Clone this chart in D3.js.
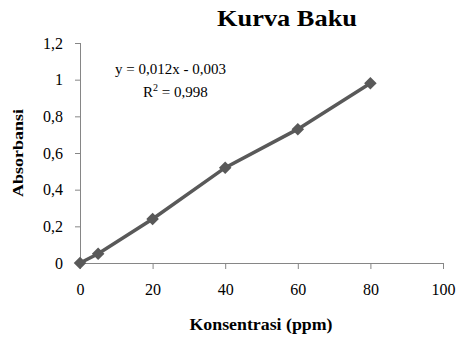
<!DOCTYPE html>
<html>
<head>
<meta charset="utf-8">
<script src="https://cdn.jsdelivr.net/npm/d3@7"></script>
<style>
  body { margin: 0; background: #fff; }
  .axis path, .axis line { stroke: #868686; }
  .axis text { font-family: "Liberation Serif", serif; font-size: 16px; fill: #000; }
</style>
</head>
<body>
<script>
// Data
var konsentrasi = [0, 5, 20, 40, 60, 80];
var absorbansi = [0, 0.05, 0.24, 0.52, 0.73, 0.98];
var xTicks = [0, 20, 40, 60, 80, 100];
var yTicks = [0, 0.2, 0.4, 0.6, 0.8, 1, 1.2];

var w = 466;
var h = 337;

// Scales
var xScale = d3.scaleLinear()
    .domain([0, 100])
    .range([80, 443]);

var yScale = d3.scaleLinear()
    .domain([0, 1.2])
    .range([263, 43]);

// comma as decimal sign
var fmt = function(d) { return String(+d.toFixed(1)).replace(".", ","); };

var svg = d3.select("body")
    .append("svg")
    .attr("width", w)
    .attr("height", h);

// X axis
svg.append("g")
    .attr("class", "axis")
    .attr("transform", "translate(0," + yScale(0) + ")")
    .call(d3.axisBottom(xScale).tickValues(xTicks).tickSize(6).tickPadding(15).tickFormat(fmt))
    .call(function(g) { g.select(".domain").attr("d", "M80,0.5H443"); });

// Y axis
svg.append("g")
    .attr("class", "axis")
    .attr("transform", "translate(" + xScale(0) + ",0)")
    .call(d3.axisLeft(yScale).tickValues(yTicks).tickSize(5).tickPadding(12).tickFormat(fmt))
    .call(function(g) { g.select(".domain").attr("d", "M0.5,43V263"); });

// Title
svg.append("text")
    .attr("x", 287)
    .attr("y", 26)
    .attr("text-anchor", "middle")
    .attr("textLength", 140)
    .attr("lengthAdjust", "spacingAndGlyphs")
    .style("font", "bold 24px 'Liberation Serif', serif")
    .text("Kurva Baku");

// Axis titles
svg.append("text")
    .attr("transform", "translate(23,153) rotate(-90)")
    .attr("text-anchor", "middle")
    .attr("textLength", 88)
    .attr("lengthAdjust", "spacingAndGlyphs")
    .style("font", "bold 15px 'Liberation Serif', serif")
    .text("Absorbansi");

svg.append("text")
    .attr("x", 261)
    .attr("y", 330)
    .attr("text-anchor", "middle")
    .attr("textLength", 143)
    .attr("lengthAdjust", "spacingAndGlyphs")
    .style("font", "bold 16px 'Liberation Serif', serif")
    .text("Konsentrasi (ppm)");

// Trendline equation
svg.append("text")
    .attr("x", 115)
    .attr("y", 74)
    .style("font", "15px 'Liberation Serif', serif")
    .text("y = 0,012x - 0,003");

var r2 = svg.append("text")
    .attr("x", 143)
    .attr("y", 97)
    .style("font", "15px 'Liberation Serif', serif");
r2.append("tspan").text("R");
r2.append("tspan").attr("dy", -6).style("font-size", "10px").text("2");
r2.append("tspan").attr("dy", 6).text(" = 0,998");

// Series
var pts = konsentrasi.map(function(d, i) { return {x: d, y: absorbansi[i]}; });

var line = d3.line()
    .x(function(d) { return xScale(d.x); })
    .y(function(d) { return yScale(d.y); });

svg.append("path")
    .datum(pts)
    .attr("d", line)
    .style("fill", "none")
    .style("stroke", "#595959")
    .style("stroke-width", 3.5);

svg.selectAll(".marker")
    .data(pts)
    .enter().append("path")
    .attr("class", "marker")
    .attr("transform", function(d) { return "translate(" + xScale(d.x) + "," + yScale(d.y) + ")"; })
    .attr("d", d3.symbol().type(d3.symbolDiamond2).size(100))
    .style("fill", "#595959");
</script>
</body>
</html>
